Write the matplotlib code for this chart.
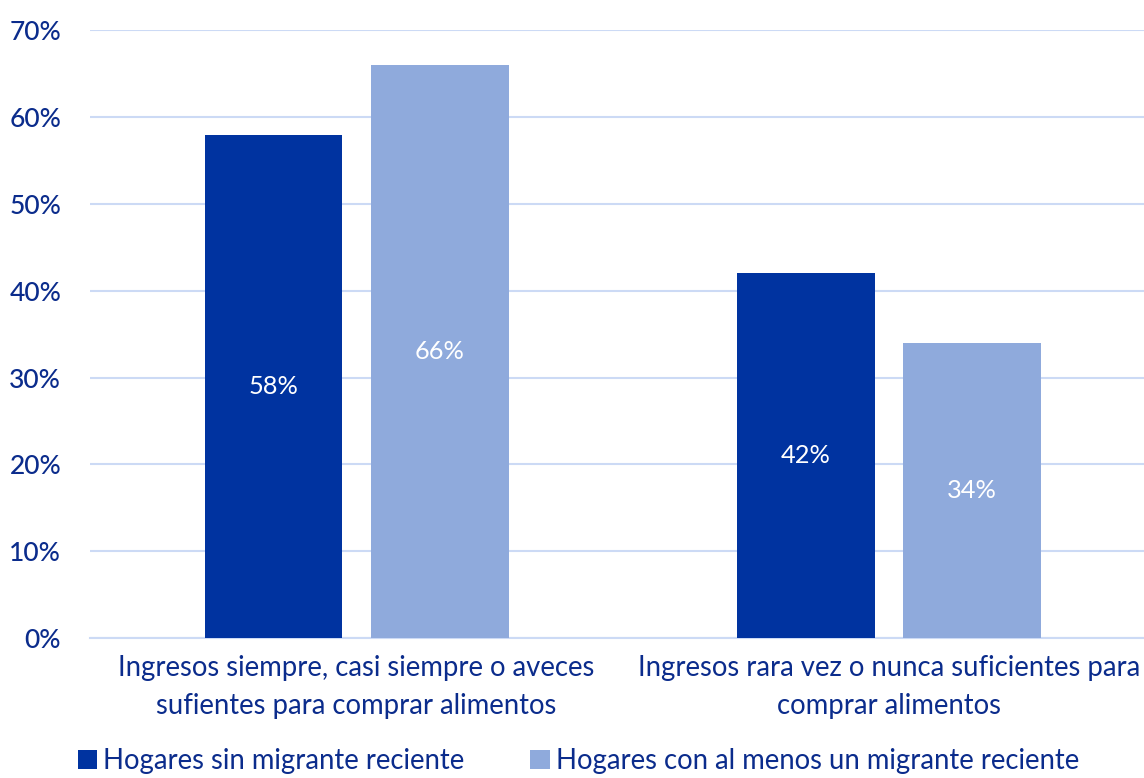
import numpy as np
import matplotlib.pyplot as plt
from matplotlib import rcParams

rcParams.update({
    "font.family": ["Lato", "DejaVu Sans"],
    "font.size": 19,
})

# ── Data ──────────────────────────────────────────────────────────────────────
categories = [
    "Ingresos siempre, casi siempre o aveces\nsufientes para comprar alimentos",
    "Ingresos rara vez o nunca suficientes para\ncomprar alimentos",
]
series_names = ["Hogares sin migrante reciente",
                "Hogares con al menos un migrante reciente"]
sin_migrante = [58, 42]
con_migrante = [66, 34]
y_ticks = [0, 10, 20, 30, 40, 50, 60, 70]

C_DARK  = "#0033A0"
C_LIGHT = "#8FAADC"
C_TEXT  = "#0B2C8C"
C_GRID  = "#CCDAF5"

# ── Plot ──────────────────────────────────────────────────────────────────────
fig = plt.figure(figsize=(11.44, 7.78), dpi=100)
ax = fig.add_axes([0.079, 0.18, 0.9306, 0.781])

x = np.arange(len(categories))
w = 0.259
off = 0.156
b1 = ax.bar(x - off, sin_migrante, w, color=C_DARK, label=series_names[0], zorder=3)
b2 = ax.bar(x + off, con_migrante, w, color=C_LIGHT, label=series_names[1], zorder=3)

for bars, vals in ((b1, sin_migrante), (b2, con_migrante)):
    for rect, v in zip(bars, vals):
        ax.text(rect.get_x() + rect.get_width() / 2, v / 2, f"{v}%",
                ha="center", va="center", color="white", fontsize=18.3, zorder=4)

ax.set_xlim(-0.5, 1.5)
ax.set_ylim(0, 70)
ax.set_yticks(y_ticks)
ax.set_yticklabels([f"{t}%" for t in y_ticks], color=C_TEXT, fontsize=19,
                   fontweight="medium")
ax.set_xticks(x)
ax.set_xticklabels(categories, color=C_TEXT, fontsize=19.8, linespacing=1.6)
ax.tick_params(axis="both", length=0)
ax.tick_params(axis="y", pad=21)
ax.tick_params(axis="x", pad=12)

ax.yaxis.grid(True, color=C_GRID, linewidth=1.5, zorder=0)
for s in ("top", "right", "left"):
    ax.spines[s].set_visible(False)
ax.spines["bottom"].set_color(C_GRID)
ax.spines["bottom"].set_linewidth(1.5)

leg = fig.legend(handles=[b1, b2], loc="center left", bbox_to_anchor=(0.068, 0.022),
                 ncol=2, frameon=False, fontsize=19.8, handlelength=0.7,
                 handleheight=0.7, handletextpad=0.22, columnspacing=2.4,
                 borderpad=0, borderaxespad=0)
for t in leg.get_texts():
    t.set_color(C_TEXT)

fig.savefig("out.png", dpi=100)
